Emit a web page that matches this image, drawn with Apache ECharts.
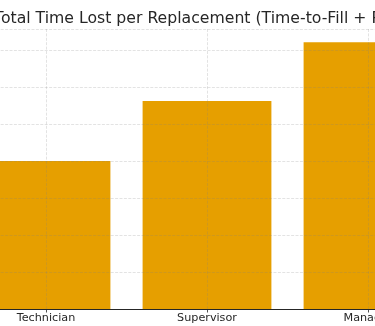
<!DOCTYPE html>
<html>
<head>
<meta charset="utf-8">
<script src="https://cdn.jsdelivr.net/npm/echarts@6/dist/echarts.min.js"></script>
<style>
html,body{margin:0;padding:0;background:#fff;overflow:hidden;width:375px;height:326px;position:relative;}
#chart{position:absolute;left:-35px;top:0;width:560px;height:326px;}
</style>
</head>
<body>
<div id="chart"></div>
<script>
const categories = ['Technician', 'Supervisor', 'Manager'];
const totalTimeLost = [80, 112.5, 144.2];
const titleText = 'Total Time Lost per Replacement (Time-to-Fill + Ramp-Up)';

const chart = echarts.init(document.getElementById('chart'), null, {renderer: 'canvas'});
const font = 'DejaVu Sans';
chart.setOption({
  animation: false,
  backgroundColor: '#ffffff',
  title: {
    text: titleText,
    left: 29,
    top: 11,
    padding: 0,
    textStyle: {fontFamily: font, fontSize: 15.7, fontWeight: 'normal', color: '#262626'}
  },
  grid: {left: 0.5, width: 483, top: 29, bottom: 17, containLabel: false},
  xAxis: {
    type: 'category',
    data: categories,
    z: 5,
    axisLine: {show: true, lineStyle: {color: '#262626', width: 1}},
    axisTick: {show: true, alignWithLabel: true, length: 3.5, lineStyle: {color: '#262626', width: 0.8}},
    axisLabel: {fontFamily: font, fontSize: 11.2, color: '#262626', margin: 4},
    splitLine: {show: true, alignWithLabel: true, lineStyle: {color: 'rgba(128,128,128,0.28)', width: 0.8, type: [3, 1.4]}}
  },
  yAxis: {
    type: 'value',
    min: 0,
    max: 151.4,
    interval: 20,
    z: 5,
    axisLine: {show: false},
    axisTick: {show: false},
    axisLabel: {show: false},
    splitLine: {show: true, lineStyle: {color: 'rgba(128,128,128,0.28)', width: 0.8, type: [3, 1.4]}}
  },
  series: [{
    type: 'bar',
    data: totalTimeLost,
    barWidth: '80%',
    itemStyle: {color: '#E69F00'}
  }]
});
</script>
</body>
</html>
